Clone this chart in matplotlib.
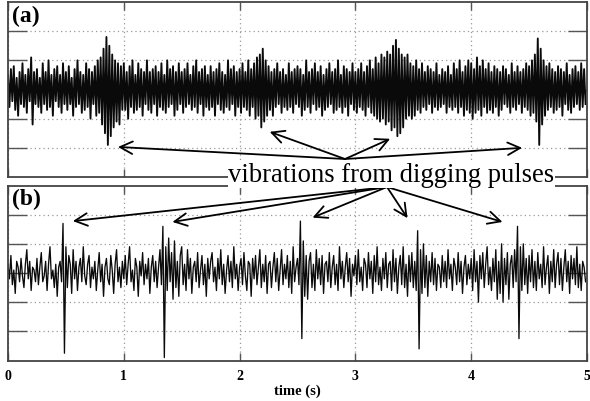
import numpy as np
import matplotlib
matplotlib.use("Agg")
import matplotlib.pyplot as plt

plt.rcParams['font.family'] = ['Liberation Serif', 'DejaVu Serif']

# vibration signal (a), 80 samples per second
sig_a = [
    .5,-.6,.7,-.4,.8,-.7,.4,-.9,.6,-.5,.9,-.6,.5,-.8,.7,-.4,1.1,-1.2,.6,-.5,
    .7,-.6,.4,-.8,.9,-.5,.6,-.7,1.0,-.6,.5,-.9,.7,-.4,.8,-.6,.5,-.8,.9,-.5,
    .6,-.7,.8,-.5,.4,-.9,.7,-.6,1.0,-.5,.6,-.8,.5,-.7,.9,-.6,.7,-1.0,.6,-.5,
    .8,-.9,1.0,-.8,1.1,-1.2,1.4,-1.5,1.8,-1.9,1.5,-1.6,1.2,-1.3,1.0,-1.1,.9,-1.2,.8,-.7,
    .9,-.7,.6,-1.0,.8,-.6,1.0,-.8,.5,-.7,.9,-.6,.7,-.9,.6,-.5,1.0,-.7,.6,-.8,
    .7,-.5,.8,-.9,.6,-.6,.9,-.7,.5,-.8,1.0,-.6,.7,-.5,.8,-.9,.6,-.7,.9,-.5,
    .6,-.8,.7,-.6,.9,-.5,.5,-.7,.8,-.6,1.0,-.8,.6,-.5,.7,-.9,.8,-.6,.5,-.7,
    .8,-.6,.6,-.9,.7,-.5,.9,-.7,.6,-.8,.5,-.6,1.0,-.7,.7,-.5,.8,-.9,.6,-.6,
    .7,-.8,.9,-.6,.6,-.7,1.0,-.9,.7,-.6,.9,-1.0,1.1,-.9,1.2,-1.3,1.4,-1.1,1.0,-.9,
    .8,-.7,.6,-.9,.7,-.6,.9,-.5,.6,-.8,.7,-.6,.5,-.7,.9,-.6,.6,-.8,.7,-.5,
    .8,-.6,.7,-.9,.5,-.7,1.0,-.6,.6,-.8,.7,-.5,.9,-.7,.6,-.6,.8,-.9,.5,-.7,
    .7,-.6,.9,-.5,.6,-.8,.7,-.7,1.0,-.6,.5,-.8,.8,-.6,.7,-.9,.6,-.5,.9,-.7,
    .6,-.8,.7,-.6,.9,-.7,.6,-.9,.8,-.6,1.0,-.8,.7,-.9,1.1,-1.0,.9,-1.1,1.2,-1.0,
    1.1,-1.2,1.3,-1.1,1.2,-1.4,1.5,-1.3,1.7,-1.6,1.4,-1.5,1.2,-1.3,1.1,-1.0,1.2,-.9,.9,-1.0,
    .8,-.9,1.0,-.7,.7,-.8,.9,-.6,.6,-.7,.8,-.5,.7,-.8,.6,-.6,.9,-.7,.5,-.6,
    .7,-.5,.6,-.8,.8,-.6,.5,-.7,.9,-.6,.7,-.8,1.0,-.6,.6,-.9,.8,-.7,1.0,-.8,
    .9,-1.0,.7,-.8,1.1,-.7,.8,-.9,1.0,-.6,.7,-.8,.9,-.7,.6,-.8,.8,-.6,.7,-.9,
    .6,-.7,.8,-.5,.7,-.6,.5,-.8,.9,-.6,.6,-.7,.8,-.5,.6,-.8,.7,-.6,.9,-.7,
    .8,-.9,1.0,-.8,1.2,-1.1,1.75,-1.9,1.4,-1.2,1.0,-.9,.8,-.7,.9,-.6,.7,-.8,.6,-.7,
    .8,-.6,.7,-.9,.6,-.5,.9,-.7,.5,-.8,.7,-.6,.8,-.5,.6,-.7,.9,-.6,.7,-.5,
]

# vibration signal (b)
sig_b = [
    .3,-.2,.6,-.4,.1,-.7,.4,.2,-.3,.5,-.1,-.5,.3,.8,-.2,.4,-.6,.2,.1,-.3,
    .5,-.4,.2,.7,-.3,-.1,.4,-.6,.3,.9,-.2,.1,-.5,.3,-.8,.2,.4,-.3,1.7,-2.75,
    .9,-.5,.6,.3,-.7,.8,-.2,.4,-.6,.2,.5,-.3,.9,-.1,-.4,.3,.6,-.5,.2,-.2,
    .4,-.6,.1,.7,-.3,.3,-.8,.2,.5,-.2,-.4,.6,.1,-.7,.3,.8,-.3,.2,-.5,.4,
    -.2,.6,-.4,.3,.9,-.3,.1,-.6,.5,.2,-.8,.4,-.1,.7,-.4,.3,-.2,.5,-.7,.2,
    .6,-.3,.4,-.5,.2,.8,-.4,1.6,-2.9,.9,-.6,1.2,-.3,.7,-.9,1.1,-.5,.4,-.8,.6,
    .9,-.4,.3,-.6,.8,-.2,.5,-.7,.2,.4,-.3,.7,-.5,.1,.6,-.4,.3,-.8,.5,-.2,
    .4,.7,-.3,.2,-.6,.5,-.2,.8,-.4,.3,-.7,.1,.6,-.3,.4,-.5,.9,-.2,.3,-.6,
    .2,.5,-.4,.7,-.1,-.6,.4,.3,-.8,.5,-.2,.6,-.4,.2,.8,-.5,.3,-.3,.6,-.7,
    .3,.4,-.5,.2,.7,-.3,.5,-.6,.1,.8,-.4,.3,-.2,.6,-.5,.4,-.7,.9,-.3,.2,
    .5,-.4,1.78,-2.25,1.1,-.8,.6,-.9,.4,.7,-.5,.3,-.6,.8,-.2,.5,-.4,.6,-.7,.3,
    .4,-.3,.7,-.5,.2,.6,-.4,.3,-.6,.9,-.2,.4,-.5,.2,.7,-.3,.5,-.8,.3,-.1,
    .6,-.4,.8,-.3,.2,-.6,.5,.3,-.5,.7,-.2,.4,-.7,.6,-.3,.9,-.4,.2,-.6,.5,
    -.2,.7,-.5,.3,.4,-.6,.8,-.3,.5,-.7,.2,.6,-.4,.9,-.5,.3,-.8,.6,-.3,.7,
    -.5,.4,-.6,1.45,-2.6,.8,-.7,1.0,-.5,.6,-.8,.4,-.3,.7,-.4,.5,-.6,.3,.2,-.5,
    .6,-.3,.4,-.5,.8,-.2,.3,-.6,.5,.2,-.4,.7,-.3,.4,-.7,.2,.6,-.4,.3,-.2,
    .5,-.6,.8,-.3,.4,-1.0,.6,-.2,.7,-.5,.3,.9,-.4,.2,-.6,.5,-.3,.8,-.9,.4,
    -.7,1.0,-1.0,.5,-.4,.7,-.9,.3,.6,-.5,.8,-.3,1.6,-2.25,.9,-.6,1.0,-.4,.5,-.7,
    .6,-.3,.8,-.5,.4,-.6,.7,-.2,.3,-.5,.9,-.4,.2,.6,-.7,.4,-.3,.8,-.5,.3,
    .7,-.4,.5,-.6,.2,.8,-.3,.4,-.7,.6,-.2,.5,-.4,.9,-.5,.3,-.6,.4,.2,-.3,
]

duration = 5.0
xticks = [0, 1, 2, 3, 4, 5]
yticks = [-2, -1, 0, 1, 2]

# arrow targets (time, amplitude) for the digging pulses
pulses_a = [(0.95, -1.97), (2.26, -1.45), (3.30, -1.69), (4.44, -2.0)]
pulses_b = [(0.56, 1.78), (1.42, 1.75), (2.63, 1.9), (3.45, 1.88), (4.27, 1.75)]

W, H = 590, 402
fig = plt.figure(figsize=(W / 100, H / 100), dpi=100)
ax_a = fig.add_axes([8 / W, (H - 178) / H, 579 / W, 175 / H])
ax_b = fig.add_axes([8 / W, (H - 361.5) / H, 579 / W, 175 / H])

for ax, sig, lab, lw in [(ax_a, sig_a, '(a)', 1.35), (ax_b, sig_b, '(b)', 0.95)]:
    t = np.arange(len(sig)) * duration / len(sig)
    ax.plot(t, sig, color='#0a0a0a', lw=lw)
    ax.set_xlim(0, duration)
    ax.set_ylim(-3, 3)
    ax.set_xticks(xticks)
    ax.set_yticks(yticks)
    ax.set_yticklabels([])
    ax.grid(True, linestyle=(0, (1, 2.5)), color='#999999', lw=0.9)
    ax.tick_params(direction='in', top=True, right=True, color='#555555', width=1)
    ax.tick_params(axis='x', length=6)
    ax.tick_params(axis='y', length=14)
    for sp in ax.spines.values():
        sp.set_color('#444444')
        sp.set_linewidth(1.3)
    ax.text(0.007, 0.985, lab, transform=ax.transAxes, ha='left', va='top',
            fontsize=17, fontweight='bold')

ax_a.set_xticklabels([])
ax_b.set_xticklabels([str(x) for x in xticks], fontsize=10, fontweight='bold')
ax_b.tick_params(axis='x', pad=6)
ax_b.set_xlabel('time (s)', fontsize=10.5, fontweight='bold', labelpad=1)

arrow = dict(arrowstyle='->, head_length=0.9, head_width=0.45', color='black',
             lw=1.3, shrinkA=0, shrinkB=0, mutation_scale=10)
tail_a = (345 / W, 1 - 160 / H)
tail_b = (387 / W, 1 - 188 / H)
for p in pulses_a:
    ax_a.annotate('', xy=p, xycoords='data', xytext=tail_a,
                  textcoords='figure fraction', arrowprops=arrow,
                  annotation_clip=False)
for p in pulses_b:
    ax_b.annotate('', xy=p, xycoords='data', xytext=tail_b,
                  textcoords='figure fraction', arrowprops=arrow,
                  annotation_clip=False)

fig.text(391.5 / W, 1 - 176 / H, 'vibrations from digging pulses',
         ha='center', va='center', fontsize=19.2, zorder=5,
         bbox=dict(facecolor='white', edgecolor='none', pad=0.3))

fig.savefig('out.png', dpi=100)
